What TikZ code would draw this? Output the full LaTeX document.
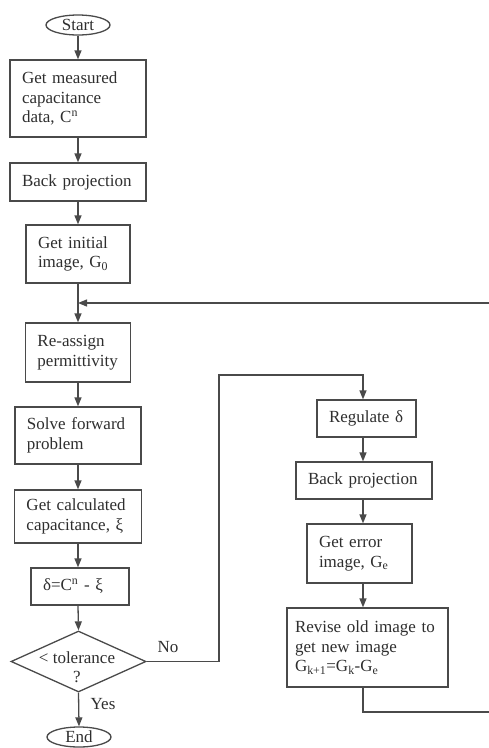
\documentclass[tikz,border=0pt]{standalone}
\usepackage{fontspec}
\setmainfont{Liberation Serif}
\usetikzlibrary{shapes.geometric,arrows.meta}
\definecolor{linec}{HTML}{4A4A4A}
\definecolor{textc}{HTML}{2E2E2E}
\newcommand{\ffont}{\fontsize{17}{19.5}\selectfont}
\tikzset{
  bx/.style={draw=linec, line width=1.3pt, rectangle, inner xsep=12pt, inner ysep=0pt, align=left, font=\ffont, text=textc},
  term/.style={draw=linec, line width=1.3pt, ellipse, inner sep=0pt, minimum width=64pt, minimum height=20pt, text height=11pt, text depth=0pt, font=\ffont, text=textc},
  dec/.style={draw=linec, line width=1.3pt, diamond, inner sep=0pt, minimum width=135pt, minimum height=61pt},
  lbl/.style={font=\ffont, text=textc, inner sep=0pt},
  con/.style={draw=linec, line width=1.3pt},
  arr/.style={con, -{Triangle[length=9pt,width=7pt]}}
}
\begin{document}
\begin{tikzpicture}[x=1pt,y=-1pt]
\useasboundingbox (0,0) rectangle (489,748);
% left column
\node[term] (start) at (78,25) {Start};
\node[bx, text width=112pt, minimum height=77pt] (b1) at (78,98.5) {Get measured\\capacitance\\data, C\textsuperscript{n}};
\node[bx, text width=112pt, minimum height=38pt] (b2) at (78,182) {Back projection};
\node[bx, text width=80pt, minimum height=58pt] (b3) at (78,254) {Get initial\\image, G\textsubscript{0}};
\node[bx, text width=81pt, minimum height=59pt] (b4) at (78,352.5) {Re-assign\\permittivity};
\node[bx, text width=102pt, minimum height=57pt] (b5) at (78,435.5) {Solve forward\\problem};
\node[bx, text width=103pt, minimum height=53pt] (b6) at (78,516.5) {Get calculated\\capacitance, ξ};
\node[bx, text width=74pt, minimum height=37pt] (b7) at (80,586.5) {δ=C\textsuperscript{n} - ξ};
\node[dec] (dia) at (78.5,661.5) {};
\node[lbl, align=center] (dtext) at (77,667) {< tolerance\\?};
\node[term] (end) at (79,737) {End};
\node[lbl] (no) at (168,647) {No};
\node[lbl] (yes) at (103,704) {Yes};
% right column
\node[bx, text width=75pt, minimum height=37pt] (r1) at (366.5,418.5) {Regulate δ};
\node[bx, text width=112pt, minimum height=37pt] (r2) at (364,480.5) {Back projection};
\node[bx, text width=81pt, minimum height=59pt] (r3) at (359.5,553.5) {Get error\\image, G\textsubscript{e}};
\node[bx, inner xsep=8pt, text width=145pt, minimum height=79pt] (r4) at (367.5,647.5) {Revise old image to\\get new image\\G\textsubscript{k+1}=G\textsubscript{k}-G\textsubscript{e}};
% guide coordinates
\coordinate (lx) at (78,0);
\coordinate (rx) at (363,0);
\coordinate (j) at (78,303);
\coordinate (nx) at (219,375);
% left arrows
\draw[arr] (start.south -| lx) -- (b1.north -| lx);
\draw[arr] (b1.south -| lx) -- (b2.north -| lx);
\draw[arr] (b2.south -| lx) -- (b3.north -| lx);
\draw[arr] (b3.south -| lx) -- (b4.north -| lx);
\draw[arr] (b4.south -| lx) -- (b5.north -| lx);
\draw[arr] (b5.south -| lx) -- (b6.north -| lx);
\draw[arr] (b6.south -| lx) -- (b7.north -| lx);
\draw[arr] (b7.south -| lx) -- (dia.north);
\draw[arr] (dia.south) -- (end.north);
% No branch
\draw[arr] (dia.east) -- (dia.east -| nx) -- (nx) -- (nx -| rx) -- (r1.north -| rx);
% right arrows
\draw[arr] (r1.south -| rx) -- (r2.north -| rx);
\draw[arr] (r2.south -| rx) -- (r3.north -| rx);
\draw[arr] (r3.south -| rx) -- (r4.north -| rx);
% feedback loop
\begin{scope}
\clip (0,0) rectangle (489,748);
\coordinate (fb) at (495,712);
\draw[arr] (r4.south -| rx) -- (rx |- fb) -- (fb) -- (fb |- j) -- (j);
\end{scope}
\end{tikzpicture}
\end{document}
